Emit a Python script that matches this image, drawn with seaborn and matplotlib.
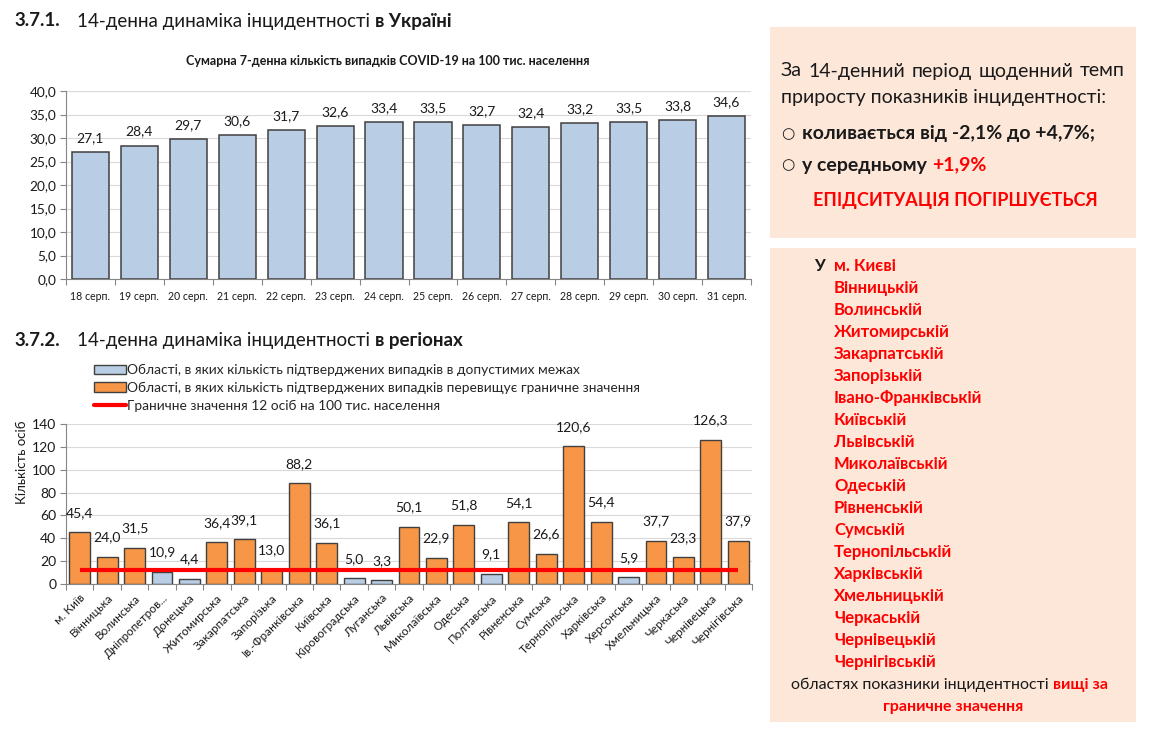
import matplotlib
matplotlib.use("Agg")
import matplotlib.pyplot as plt
from matplotlib.patches import Rectangle, Patch
from matplotlib.lines import Line2D
from matplotlib.ticker import FuncFormatter, MultipleLocator, FixedLocator
import seaborn as sns
import pandas as pd

# ---------------- data ----------------
dates = ["18 серп.", "19 серп.", "20 серп.", "21 серп.", "22 серп.", "23 серп.", "24 серп.",
         "25 серп.", "26 серп.", "27 серп.", "28 серп.", "29 серп.", "30 серп.", "31 серп."]
ukraine_values = [27.1, 28.4, 29.7, 30.6, 31.7, 32.6, 33.4, 33.5, 32.7, 32.4, 33.2, 33.5, 33.8, 34.6]

regions = ["м. Київ", "Вінницька", "Волинська", "Дніпропетров...", "Донецька", "Житомирська",
           "Закарпатська", "Запорізька", "Ів.-Франківська", "Київська", "Кіровоградська",
           "Луганська", "Львівська", "Миколаївська", "Одеська", "Полтавська", "Рівненська",
           "Сумська", "Тернопільська", "Харківська", "Херсонська", "Хмельницька", "Черкаська",
           "Чернівецька", "Чернігівська"]
region_values = [45.4, 24.0, 31.5, 10.9, 4.4, 36.4, 39.1, 13.0, 88.2, 36.1, 5.0, 3.3, 50.1,
                 22.9, 51.8, 9.1, 54.1, 26.6, 120.6, 54.4, 5.9, 37.7, 23.3, 126.3, 37.9]
limit_value = 12

series_ok = "Області, в яких кількість підтверджених випадків в допустимих межах"
series_over = "Області, в яких кількість підтверджених випадків перевищує граничне значення"
series_limit = "Граничне значення 12 осіб на 100 тис. населення"

above_regions = ["м. Києві", "Вінницькій", "Волинській", "Житомирській", "Закарпатській",
                 "Запорізькій", "Івано-Франківській", "Київській", "Львівській", "Миколаївській",
                 "Одеській", "Рівненській", "Сумській", "Тернопільській", "Харківській",
                 "Хмельницькій", "Черкаській", "Чернівецькій", "Чернігівській"]

# ---------------- style ----------------
W, H = 1152, 735
sns.set_theme(style="white")
plt.rcParams["font.family"] = ["Lato", "DejaVu Sans"]

BLUE = "#B9CDE5"
ORANGE = "#F79646"
EDGE = "#404040"
GRID = "#D9D9D9"
AXC = "#868686"
TXT = "#1a1a1a"
PANEL = "#FCE7D9"
RED = "#FF0000"

fig = plt.figure(figsize=(W / 100, H / 100), dpi=100)
fig.patch.set_facecolor("white")


def fx(px):
    return px / W


def fy(py):
    return 1 - py / H


def comma(v, decimals=1):
    return f"{v:.{decimals}f}".replace(".", ",")


renderer = fig.canvas.get_renderer()


def rich(x_px, y_px, parts, size, gap=None):
    """Place sequential text pieces (text, weight, color) starting at x_px."""
    x = x_px
    if gap is None:
        gap = 0.27 * size * 100 / 72
    for txt, weight, color in parts:
        t = fig.text(fx(x), fy(y_px), txt, fontsize=size, fontweight=weight, color=color,
                     ha="left", va="center")
        bb = t.get_window_extent(renderer)
        x += bb.width + gap


def justified(x0, x1, y_px, words, size, color=TXT, weight="normal"):
    texts = [fig.text(0, fy(y_px), w, fontsize=size, fontweight=weight, color=color,
                      ha="left", va="center") for w in words]
    widths = [t.get_window_extent(renderer).width for t in texts]
    gap = (x1 - x0 - sum(widths)) / (len(words) - 1)
    x = x0
    for t, w in zip(texts, widths):
        t.set_x(fx(x))
        x += w + gap


# ---------------- section titles ----------------
TS = 13.5
rich(14, 21, [("3.7.1.", "bold", TXT)], TS)
rich(77, 21, [("14-денна динаміка інцидентності", "normal", TXT), ("в Україні", "bold", TXT)], TS)
fig.text(fx(388), fy(61), "Сумарна 7-денна кількість випадків COVID-19 на 100 тис. населення",
         fontsize=9, fontweight="bold", color=TXT, ha="center", va="center")

rich(14, 340, [("3.7.2.", "bold", TXT)], TS)
rich(77, 340, [("14-денна динаміка інцидентності", "normal", TXT), ("в регіонах", "bold", TXT)], TS)

# ---------------- top chart ----------------
ax1 = fig.add_axes([fx(66), fy(279), fx(751) - fx(66), fy(91) - fy(279)])
df1 = pd.DataFrame({"date": dates, "value": ukraine_values})
sns.barplot(data=df1, x="date", y="value", order=dates, color=BLUE, edgecolor=EDGE,
            linewidth=1.1, width=0.76, saturation=1, ax=ax1)
ax1.set_xlim(-0.5, len(dates) - 0.5)
ax1.set_ylim(0, 40)
ax1.yaxis.set_major_locator(MultipleLocator(5))
ax1.yaxis.set_major_formatter(FuncFormatter(lambda v, p: comma(v)))
ax1.grid(axis="y", color=GRID, linewidth=0.8)
ax1.set_axisbelow(True)
ax1.set_xlabel("")
ax1.set_ylabel("")
for s in ["top", "right"]:
    ax1.spines[s].set_visible(False)
for s in ["left", "bottom"]:
    ax1.spines[s].set_color(AXC)
    ax1.spines[s].set_linewidth(0.8)
ax1.tick_params(axis="y", labelsize=9.8, colors=AXC, labelcolor=TXT, length=4, width=0.8, left=True, pad=3)
ax1.tick_params(axis="x", which="major", length=0, labelsize=7.6, labelcolor=TXT, pad=9)
ax1.xaxis.set_minor_locator(FixedLocator([i - 0.5 for i in range(len(dates) + 1)]))
ax1.tick_params(axis="x", which="minor", length=4, width=0.8, color=AXC, bottom=True)
for i, v in enumerate(ukraine_values):
    ax1.annotate(comma(v), (i, v), xytext=(0, 10), textcoords="offset points",
                 ha="center", va="center", fontsize=10, color=TXT)

# ---------------- bottom chart ----------------
ax2 = fig.add_axes([fx(66), fy(584), fx(752) - fx(66), fy(424) - fy(584)])
df2 = pd.DataFrame({"region": regions, "value": region_values})
df2["status"] = [series_over if v > limit_value else series_ok for v in region_values]
sns.barplot(data=df2, x="region", y="value", hue="status", order=regions,
            hue_order=[series_ok, series_over], palette={series_ok: BLUE, series_over: ORANGE},
            dodge=False, edgecolor=EDGE, linewidth=1.0, width=0.76, saturation=1,
            legend=False, ax=ax2)
ax2.hlines(limit_value, 0, len(regions) - 1, color=RED, linewidth=3, zorder=5)
ax2.set_xlim(-0.5, len(regions) - 0.5)
ax2.set_ylim(0, 140)
ax2.yaxis.set_major_locator(MultipleLocator(20))
ax2.yaxis.set_major_formatter(FuncFormatter(lambda v, p: f"{v:.0f}"))
ax2.grid(axis="y", color=GRID, linewidth=0.8)
ax2.set_axisbelow(True)
ax2.set_xlabel("")
ax2.set_ylabel("")
for s in ["top", "right"]:
    ax2.spines[s].set_visible(False)
for s in ["left", "bottom"]:
    ax2.spines[s].set_color(AXC)
    ax2.spines[s].set_linewidth(0.8)
ax2.tick_params(axis="y", labelsize=10, colors=AXC, labelcolor=TXT, length=4, width=0.8, left=True, pad=3)
ax2.tick_params(axis="x", which="major", length=0, labelsize=8.5, labelcolor=TXT, pad=6)
ax2.xaxis.set_minor_locator(FixedLocator([i - 0.5 for i in range(len(regions) + 1)]))
ax2.tick_params(axis="x", which="minor", length=4, width=0.8, color=AXC, bottom=True)
for lab in ax2.get_xticklabels():
    lab.set_rotation(45)
    lab.set_ha("right")
    lab.set_rotation_mode("anchor")
for i, v in enumerate(region_values):
    ax2.annotate(comma(v), (i, v), xytext=(0, 14), textcoords="offset points",
                 ha="center", va="center", fontsize=10, color=TXT, zorder=6)

fig.text(fx(22), fy(462), "Кількість осіб", rotation=90, fontsize=9.5, color=TXT,
         ha="center", va="center")

handles = [Patch(facecolor=BLUE, edgecolor=EDGE, linewidth=1.0),
           Patch(facecolor=ORANGE, edgecolor=EDGE, linewidth=1.0),
           Line2D([0], [0], color=RED, linewidth=3)]
fig.legend(handles, [series_ok, series_over, series_limit], loc="upper left",
           bbox_to_anchor=(fx(94), fy(364)), frameon=False, fontsize=9.9,
           handlelength=2.3, handletextpad=0.1, labelspacing=0.42, borderaxespad=0,
           borderpad=0)

# ---------------- right panels ----------------
fig.add_artist(Rectangle((fx(770), fy(238)), fx(1136) - fx(770), fy(27) - fy(238),
                         transform=fig.transFigure, facecolor=PANEL, edgecolor="none", zorder=0))
fig.add_artist(Rectangle((fx(770), fy(722)), fx(1136) - fx(770), fy(248) - fy(722),
                         transform=fig.transFigure, facecolor=PANEL, edgecolor="none", zorder=0))

PS = 14
justified(781, 1125, 71, ["За", "14-денний", "період", "щоденний", "темп"], PS)
fig.text(fx(781), fy(98), "приросту показників інцидентності:", fontsize=PS, color=TXT,
         ha="left", va="center")
fig.text(fx(781), fy(134), "○", fontsize=PS - 3, color=TXT, ha="left", va="center",
         family=["DejaVu Sans"])
fig.text(fx(802), fy(134), "коливається від -2,1% до +4,7%;", fontsize=PS, fontweight="bold",
         color=TXT, ha="left", va="center")
fig.text(fx(781), fy(165), "○", fontsize=PS - 3, color=TXT, ha="left", va="center",
         family=["DejaVu Sans"])
rich(802, 165, [("у середньому", "bold", TXT), ("+1,9%", "bold", RED)], PS)
fig.text(fx(955), fy(200), "ЕПІДСИТУАЦІЯ ПОГІРШУЄТЬСЯ", fontsize=13, fontweight="bold",
         color=RED, ha="center", va="center")

LS = 12
fig.text(fx(814), fy(266), "У", fontsize=LS, fontweight="bold", color=TXT, ha="left", va="center")
for k, name in enumerate(above_regions):
    fig.text(fx(834), fy(266 + 22 * k), name, fontsize=LS, fontweight="bold", color=RED,
             ha="left", va="center")
rich(791, 685, [("областях показники інцидентності", "normal", TXT), ("вищі за", "bold", RED)], 11.5)
fig.text(fx(953), fy(707), "граничне значення", fontsize=11.5, fontweight="bold", color=RED,
         ha="center", va="center")

fig.savefig("out.png", dpi=100)
